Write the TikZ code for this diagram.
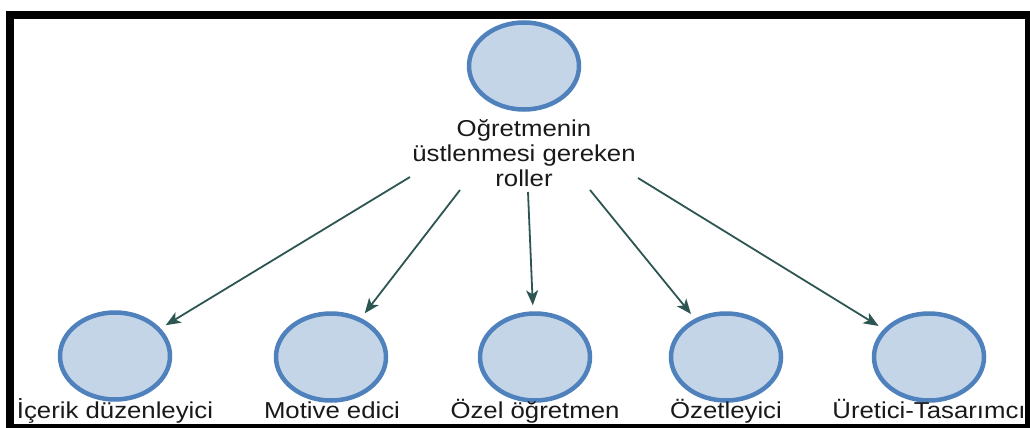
\documentclass[tikz,border=0pt]{standalone}
\usepackage{graphicx}
\usepackage{fontspec}
\setmainfont{Liberation Sans}
\usetikzlibrary{shapes.geometric,arrows.meta}
\definecolor{ringblue}{RGB}{79,129,189}
\definecolor{ringfill}{RGB}{197,213,232}
\definecolor{arrowcol}{RGB}{45,85,82}
\definecolor{txtcol}{RGB}{25,25,25}
\tikzset{
  rolecircle/.style={ellipse, draw=ringblue, fill=ringfill, line width=4.5pt,
    minimum width=110pt, minimum height=87pt, inner sep=0pt},
  rolelabel/.style={font=\fontsize{23pt}{25pt}\selectfont, text=txtcol,
    xscale=1.12, inner sep=0pt, anchor=base},
  toplabel/.style={font=\fontsize{23pt}{25pt}\selectfont, text=txtcol,
    xscale=1.12, inner sep=0pt, align=center},
  rolearrow/.style={draw=arrowcol, line width=1.8pt,
    -{Stealth[length=15pt,width=12pt,inset=4pt]}, shorten >=6pt},
  frame/.style={fill=black, draw=none}
}
\begin{document}
\begin{tikzpicture}[x=1pt,y=-1pt]
\useasboundingbox (0,0) rectangle (1030,428);
\fill[white] (0,0) rectangle (1030,428);

\node[rolecircle] (top) at (524,66) {};
\node[toplabel] (toptext) at (524,153) {Oğretmenin\\üstlenmesi gereken\\roller};

\node[rolecircle] (c1) at (115,356) {};
\node[rolecircle] (c2) at (331,357) {};
\node[rolecircle] (c3) at (535,357) {};
\node[rolecircle] (c4) at (726,357) {};
\node[rolecircle] (c5) at (929,357) {};

\node[rolelabel] (l1) at (115,418) {İçerik düzenleyici};
\node[rolelabel] (l2) at (332,418) {Motive edici};
\node[rolelabel] (l3) at (535,418) {Özel öğretmen};
\node[rolelabel] (l4) at (726,418) {Özetleyici};
\node[rolelabel] (l5) at (929,418) {Üretici-Tasarımcı};

\coordinate (s1) at (410,177);
\coordinate (s2) at (460,190);
\coordinate (s3) at (528,192);
\coordinate (s4) at (590,190);
\coordinate (s5) at (638,178);

\draw[rolearrow] (s1) -- (c1);
\draw[rolearrow] (s2) -- (c2);
\draw[rolearrow] (s3) -- (c3);
\draw[rolearrow] (s4) -- (c4);
\draw[rolearrow] (s5) -- (c5);

\fill[frame] (6,11) rectangle (1030,19);
\fill[frame] (6,11) rectangle (14,428);
\fill[frame] (1025,11) rectangle (1030,428);
\fill[frame] (6,424) rectangle (1030,428);
\end{tikzpicture}
\end{document}
